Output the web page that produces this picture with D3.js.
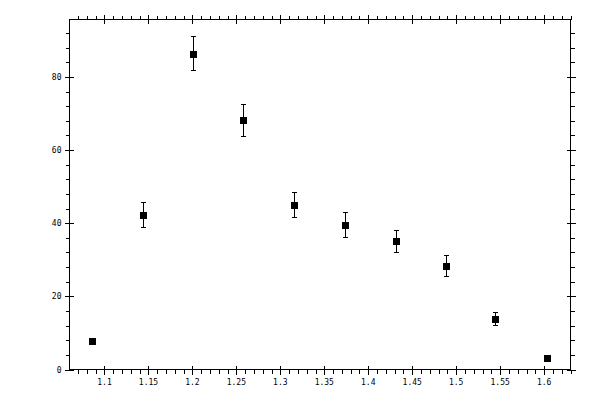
<!DOCTYPE html>
<html>
<head>
<meta charset="utf-8">
<script src="https://cdn.jsdelivr.net/npm/d3@7"></script>
<style>
  body { margin: 0; background: #fff; }
  text { font-family: "DejaVu Sans Mono", monospace; font-size: 8px; fill: #000; }
</style>
</head>
<body>
<div id="chart"></div>
<script>
'use strict';

// data
const xVals = [1.086, 1.144, 1.201, 1.258, 1.316, 1.373, 1.431, 1.488, 1.544, 1.603];
const yVals = [7.8, 42.2, 86.4, 68.1, 44.9, 39.5, 35.1, 28.3, 13.8, 3.2];
const yErr = [0.8, 3.45, 4.7, 4.3, 3.4, 3.3, 3.0, 2.8, 1.65, 0.5];

const xMajor = [1.1, 1.15, 1.2, 1.25, 1.3, 1.35, 1.4, 1.45, 1.5, 1.55, 1.6];
const yMajor = [0, 20, 40, 60, 80];

const width = 600, height = 400;
// plot frame edges
const fr = { left: 69.5, right: 570.5, top: 19.5, bottom: 369.5 };

const svg = d3.select("#chart").append("svg")
    .attr("width", width)
    .attr("height", height);

const x = d3.scaleLinear().domain([1.0602, 1.630]).range([fr.left, fr.right]);
const y = d3.scaleLinear().domain([0, 95.7]).range([fr.bottom, fr.top]);

// minor tick positions
const xMinor = d3.range(107, 164).map(d => d / 100).filter(d => d >= 1.0602 && d <= 1.630);
const yMinor = d3.range(0, 96, 4);

const fmt = d => String(+d.toFixed(2));

// frame
svg.append("rect")
    .attr("x", fr.left).attr("y", fr.top)
    .attr("width", fr.right - fr.left).attr("height", fr.bottom - fr.top)
    .attr("fill", "none").attr("stroke", "#000")
    .attr("shape-rendering", "crispEdges");

const ticks = svg.append("g")
    .attr("stroke", "#000")
    .attr("shape-rendering", "crispEdges");

// bottom + top minor ticks
xMinor.forEach(v => {
    const px = Math.round(x(v)) + 0.5;
    ticks.append("line").attr("x1", px).attr("x2", px).attr("y1", fr.bottom).attr("y2", fr.bottom + 4);
    ticks.append("line").attr("x1", px).attr("x2", px).attr("y1", fr.top).attr("y2", fr.top - 4);
});
// bottom + top majors (crossing the frame)
xMajor.forEach(v => {
    const px = Math.round(x(v)) + 0.5;
    ticks.append("line").attr("x1", px).attr("x2", px).attr("y1", fr.bottom - 4).attr("y2", fr.bottom + 5);
    ticks.append("line").attr("x1", px).attr("x2", px).attr("y1", fr.top + 4).attr("y2", fr.top - 5);
});
// left + right minor ticks
yMinor.forEach(v => {
    const py = Math.round(y(v)) + 0.5;
    ticks.append("line").attr("x1", fr.left).attr("x2", fr.left - 4).attr("y1", py).attr("y2", py);
    ticks.append("line").attr("x1", fr.right).attr("x2", fr.right + 4).attr("y1", py).attr("y2", py);
});
yMajor.forEach(v => {
    const py = Math.round(y(v)) + 0.5;
    ticks.append("line").attr("x1", fr.left - 5).attr("x2", fr.left + 4).attr("y1", py).attr("y2", py);
    ticks.append("line").attr("x1", fr.right - 4).attr("x2", fr.right + 5).attr("y1", py).attr("y2", py);
});

// tick labels
svg.append("g").selectAll("text")
    .data(xMajor)
    .enter().append("text")
    .attr("x", d => x(d))
    .attr("y", fr.bottom + 15)
    .attr("text-anchor", "middle")
    .text(fmt);

svg.append("g").selectAll("text")
    .data(yMajor)
    .enter().append("text")
    .attr("x", fr.left - 8)
    .attr("y", d => y(d) + 3)
    .attr("text-anchor", "end")
    .text(fmt);

// points with error bars
const pts = xVals.map((v, i) => ({ x: v, y: yVals[i], e: yErr[i] }));

const errs = svg.append("g")
    .attr("stroke", "#000")
    .attr("shape-rendering", "crispEdges");

pts.forEach(d => {
    const px = Math.round(x(d.x)) + 0.5;
    const y1 = y(d.y + d.e), y2 = y(d.y - d.e);
    errs.append("line").attr("x1", px).attr("x2", px).attr("y1", y1).attr("y2", y2);
    errs.append("line").attr("x1", px - 2.5).attr("x2", px + 2.5).attr("y1", y1).attr("y2", y1);
    errs.append("line").attr("x1", px - 2.5).attr("x2", px + 2.5).attr("y1", y2).attr("y2", y2);
});

svg.append("g").selectAll("rect")
    .data(pts)
    .enter().append("rect")
    .attr("x", d => Math.round(x(d.x)) - 3)
    .attr("y", d => Math.round(y(d.y)) - 3)
    .attr("width", 7)
    .attr("height", 7)
    .attr("fill", "#000");
</script>
</body>
</html>
